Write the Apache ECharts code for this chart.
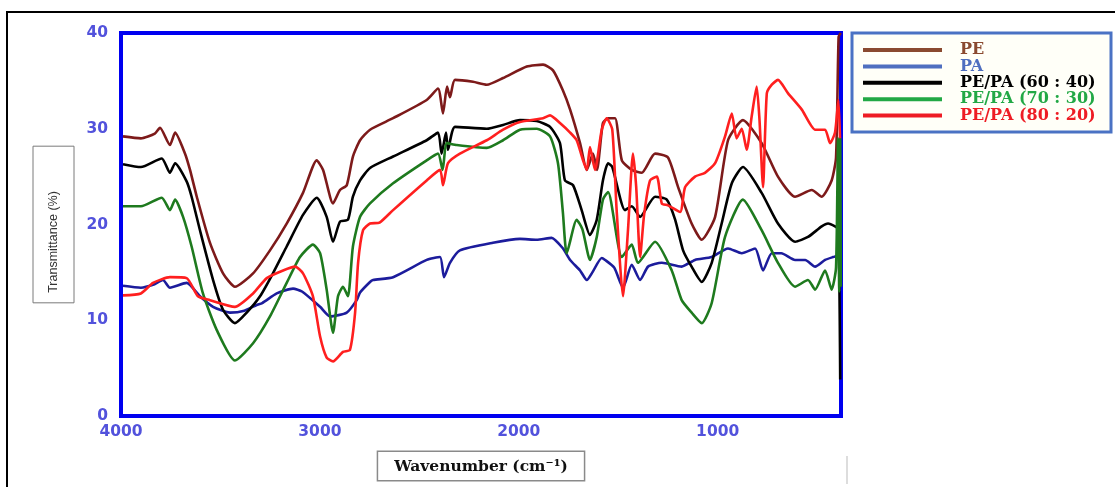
<!DOCTYPE html>
<html>
<head>
<meta charset="utf-8">
<script src="https://cdn.jsdelivr.net/npm/echarts@6/dist/echarts.min.js"></script>
<style>
html,body{margin:0;padding:0;background:#fff;}
#chart{width:1115px;height:487px;}
</style>
</head>
<body>
<div id="chart"></div>
<script>
// Series names
const seriesNames = ['PE', 'PA', 'PE/PA (60 : 40)', 'PE/PA (70 : 30)', 'PE/PA (80 : 20)'];
// x tick labels (wavenumber, cm-1)
const xTicks = [4000, 3000, 2000, 1000];
const yTicks = [0, 10, 20, 30, 40];

// [wavenumber, transmittance %]
const pe = [[3990,29.2],[3900,29.0],[3830,29.5],[3804,30.1],[3754,28.3],[3728,29.6],[3678,27.4],[3653,25.7],[3619,22.9],[3553,18.1],[3487,14.9],[3427,13.5],[3336,14.9],[3251,17.3],[3167,20.1],[3085,23.3],[3016,26.7],[2984,25.7],[2934,22.2],[2899,23.6],[2865,24.1],[2834,27.1],[2798,28.8],[2748,29.9],[2632,31.1],[2463,33.0],[2406,34.2],[2381,31.6],[2361,34.4],[2346,33.3],[2321,35.1],[2230,34.9],[2161,34.6],[2079,35.3],[1960,36.5],[1878,36.7],[1828,36.1],[1778,34.0],[1742,32.0],[1692,28.5],[1658,25.7],[1627,27.4],[1607,25.7],[1577,30.6],[1551,31.1],[1516,31.1],[1482,26.7],[1432,25.7],[1382,25.4],[1315,27.4],[1250,27.0],[1199,23.9],[1131,20.1],[1080,18.4],[1013,20.8],[948,28.8],[873,30.9],[779,28.5],[697,25.0],[611,22.9],[527,23.6],[477,22.9],[427,24.6],[405,27.0],[392,39.6],[381,40]];
const pa = [[3990,13.6],[3900,13.4],[3839,13.7],[3789,14.2],[3754,13.4],[3670,13.9],[3603,12.5],[3537,11.4],[3452,10.8],[3380,11.0],[3318,11.6],[3290,11.8],[3217,12.8],[3135,13.3],[3090,13.0],[2999,11.4],[2949,10.4],[2865,10.8],[2815,12.1],[2798,12.9],[2748,14.0],[2733,14.2],[2632,14.5],[2463,16.3],[2396,16.6],[2376,14.5],[2346,16.0],[2296,17.3],[2130,18.1],[1994,18.5],[1910,18.4],[1835,18.6],[1778,17.5],[1742,16.3],[1692,15.2],[1658,14.2],[1630,15.0],[1583,16.5],[1566,16.3],[1520,15.5],[1476,13.4],[1432,15.8],[1390,14.2],[1350,15.6],[1281,16.0],[1181,15.6],[1114,16.3],[1030,16.6],[948,17.5],[879,17.0],[812,17.5],[772,15.2],[728,17.0],[680,17.0],[611,16.3],[560,16.3],[510,15.6],[460,16.3],[420,16.6],[388,16.8]];
const blend6040 = [[3990,26.3],[3900,26.0],[3795,26.9],[3754,25.4],[3728,26.4],[3670,24.5],[3645,22.9],[3603,19.4],[3537,14.2],[3487,11.1],[3427,9.7],[3368,10.8],[3301,12.5],[3236,14.9],[3167,17.7],[3085,21.0],[3016,22.8],[2966,20.8],[2934,18.2],[2899,20.3],[2859,20.5],[2834,22.9],[2798,24.6],[2748,25.9],[2632,27.1],[2463,28.8],[2406,29.6],[2388,27.4],[2366,29.6],[2356,27.8],[2321,30.2],[2161,30.0],[2079,30.4],[1994,30.9],[1910,30.8],[1843,30.2],[1793,28.5],[1768,24.6],[1727,24.1],[1684,21.5],[1642,18.9],[1608,20.5],[1577,24.6],[1551,26.4],[1530,26.0],[1466,21.5],[1432,21.9],[1390,20.8],[1315,22.9],[1256,22.6],[1214,20.5],[1174,17.3],[1131,15.6],[1080,14.0],[1030,16.0],[980,20.1],[929,24.3],[873,26.0],[779,23.3],[697,20.1],[611,18.2],[546,18.7],[477,19.8],[445,20.1],[410,19.8],[393,19.5],[384,3.8]];
const blend7030 = [[3990,21.9],[3900,21.9],[3795,22.8],[3754,21.5],[3728,22.6],[3688,20.8],[3645,17.7],[3588,12.8],[3519,9.0],[3427,5.8],[3336,7.6],[3251,10.4],[3167,13.9],[3100,16.6],[3035,17.9],[2999,17.0],[2966,13.2],[2934,8.7],[2909,12.5],[2884,13.5],[2859,12.5],[2834,17.7],[2798,20.8],[2748,22.2],[2632,24.3],[2463,26.7],[2406,27.4],[2383,25.7],[2362,28.5],[2312,28.3],[2161,28.0],[2079,28.8],[1994,29.9],[1910,30.0],[1843,29.2],[1803,26.4],[1778,21.2],[1759,17.0],[1709,20.5],[1680,19.5],[1642,16.3],[1608,18.7],[1577,22.6],[1551,23.4],[1482,16.6],[1432,17.9],[1401,16.0],[1315,18.2],[1231,15.2],[1181,12.1],[1131,10.8],[1080,9.7],[1030,11.8],[963,18.7],[873,22.6],[779,19.4],[697,16.0],[611,13.5],[546,14.2],[510,13.2],[460,15.2],[427,13.2],[405,15.5],[395,29.0],[389,13.0],[384,29.0],[381,13.5]];
const blend8020 = [[3990,12.6],[3900,12.8],[3839,13.9],[3754,14.5],[3670,14.4],[3613,12.5],[3553,12.1],[3427,11.4],[3336,12.8],[3267,14.4],[3185,15.2],[3125,15.6],[3085,14.9],[3035,12.5],[2999,8.3],[2966,6.1],[2934,5.7],[2884,6.7],[2849,6.9],[2823,10.8],[2808,16.0],[2783,19.4],[2748,20.1],[2700,20.2],[2632,21.5],[2463,24.6],[2396,25.7],[2381,24.1],[2356,26.4],[2296,27.4],[2161,28.8],[2079,29.9],[1994,30.7],[1878,31.1],[1843,31.4],[1793,30.6],[1742,29.6],[1709,28.8],[1677,26.7],[1658,25.7],[1642,28.1],[1617,25.7],[1583,29.9],[1558,31.1],[1530,29.9],[1508,21.5],[1476,12.5],[1451,19.4],[1426,27.4],[1410,24.0],[1390,16.6],[1370,21.0],[1340,24.6],[1306,25.0],[1281,22.2],[1250,22.0],[1189,21.3],[1164,23.9],[1114,25.0],[1064,25.4],[1013,26.4],[963,29.2],[929,31.6],[905,29.0],[879,30.0],[854,27.8],[829,31.3],[804,34.4],[790,31.0],[772,23.9],[753,33.7],[728,34.6],[697,35.1],[646,33.7],[577,32.0],[510,29.9],[460,29.9],[435,28.5],[410,29.6],[393,33.0],[385,29.0]];

const plotColors = ['#7d1a1a', '#1c1c9c', '#000000', '#1e7a1e', '#ff1f1f'];
const legendColors = ['#8a4a30', '#4f6fc0', '#000000', '#22a845', '#ee1c24'];
const seriesData = [pe, pa, blend6040, blend7030, blend8020];

const chart = echarts.init(document.getElementById('chart'), null, {renderer: 'canvas'});
const axisLabelStyle = {color: '#5252dc', fontFamily: 'DejaVu Sans, Liberation Sans, sans-serif', fontWeight: 'bold', fontSize: 15.5};

chart.setOption({
  animation: false,
  backgroundColor: '#ffffff',
  grid: {left: 121, right: 274, top: 33, bottom: 71, show: true, borderColor: '#0000f0', borderWidth: 4, backgroundColor: 'transparent'},
  xAxis: {
    type: 'value', inverse: true, min: 380, max: 4000,
    axisLine: {show: false}, axisTick: {show: false}, splitLine: {show: false},
    axisLabel: Object.assign({customValues: xTicks, margin: 8, formatter: v => String(v)}, axisLabelStyle),
    name: 'Wavenumber (cm⁻¹)', nameLocation: 'middle', nameGap: 36, nameMoveOverlap: false,
    nameTextStyle: {fontFamily: 'DejaVu Serif, Liberation Serif, serif', fontWeight: 'bold', fontSize: 15.5, color: '#111',
      borderColor: '#8a8a8a', borderWidth: 1.5, padding: [7, 16, 5, 16], backgroundColor: '#fff'}
  },
  yAxis: {
    type: 'value', min: 0, max: 40, interval: 10,
    axisLine: {show: false}, axisTick: {show: false}, splitLine: {show: false},
    axisLabel: Object.assign({customValues: yTicks, margin: 13}, axisLabelStyle),
    name: 'Transmittance (%)', nameLocation: 'middle', nameRotate: 90, nameGap: 47, nameMoveOverlap: false,
    nameTextStyle: {fontFamily: 'Liberation Sans, Arial, sans-serif', fontSize: 12.5, color: '#333',
      borderColor: '#7a7a7a', borderWidth: 1, padding: [14, 45, 14, 10]}
  },
  legend: {
    orient: 'vertical', left: 863, top: 42, padding: 0,
    icon: 'rect', itemWidth: 79, itemHeight: 4, itemGap: 0.4,
    selectedMode: false,
    textStyle: {fontFamily: 'DejaVu Serif, Liberation Serif, serif', fontWeight: 'bold', fontSize: 16, lineHeight: 15, padding: [0, 0, 0, 13]},
    data: seriesNames.map((n, i) => ({name: n, itemStyle: {color: legendColors[i]}, textStyle: {color: legendColors[i]}}))
  },
  graphic: [
    {type: 'line', shape: {x1: 7, y1: 12, x2: 1115, y2: 12}, style: {stroke: '#000', lineWidth: 2}, z: 0},
    {type: 'line', shape: {x1: 7, y1: 11, x2: 7, y2: 487}, style: {stroke: '#000', lineWidth: 2}, z: 0},
    {type: 'line', shape: {x1: 847, y1: 456, x2: 847, y2: 484}, style: {stroke: '#bbbbbb', lineWidth: 1}, z: 0},
    {type: 'rect', shape: {x: 852, y: 33, width: 259, height: 99}, style: {fill: '#fffff8', stroke: '#4a72c4', lineWidth: 3}, z: -1}
  ],
  series: seriesNames.map((n, i) => ({
    name: n, type: 'line', data: seriesData[i], showSymbol: false, smooth: 0.2,
    color: plotColors[i], lineStyle: {width: 2.6, color: plotColors[i]}, z: 3 + i
  }))
});
</script>
</body>
</html>
